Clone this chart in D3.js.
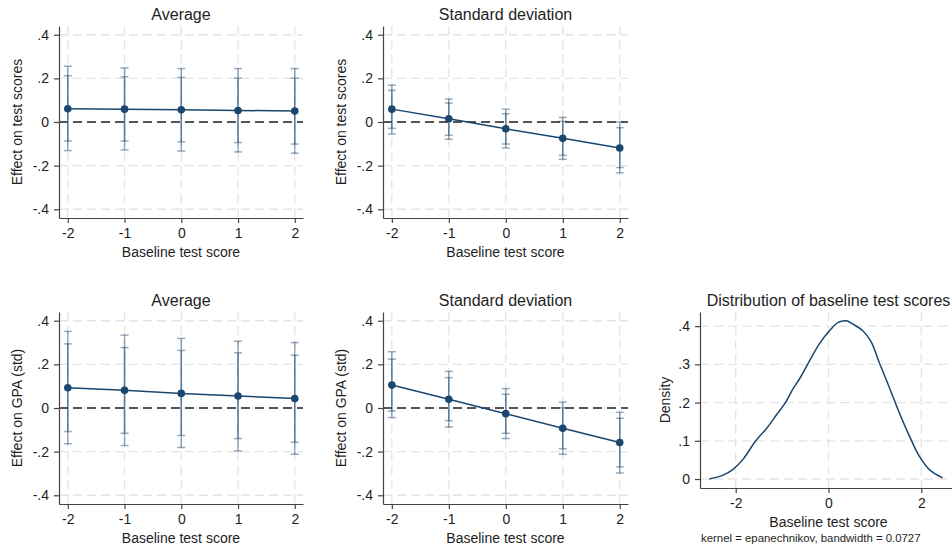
<!DOCTYPE html>
<html>
<head>
<meta charset="utf-8">
<script src="https://cdn.jsdelivr.net/npm/d3@7"></script>
<style>
  body { margin: 0; background: #fff; }
  svg { font-family: "Liberation Sans", Arial, sans-serif; }
</style>
</head>
<body>
<div id="chart"></div>
<script>
// valores de la figura
const scoreLevels = [-2, -1, 0, 1, 2];
const effectTicks = [-0.4, -0.2, 0, 0.2, 0.4];

// efecto promedio sobre test scores
const avgTestEst = [0.061, 0.059, 0.056, 0.053, 0.050];
const avgTestLo95 = [-0.131, -0.128, -0.133, -0.137, -0.143];
const avgTestHi95 = [0.256, 0.248, 0.245, 0.245, 0.245];
const avgTestLo90 = [-0.087, -0.087, -0.091, -0.094, -0.101];
const avgTestHi90 = [0.212, 0.207, 0.204, 0.201, 0.201];

// desviacion estandar sobre test scores
const sdTestEst = [0.059, 0.015, -0.031, -0.075, -0.119];
const sdTestLo95 = [-0.055, -0.079, -0.119, -0.171, -0.233];
const sdTestHi95 = [0.169, 0.105, 0.059, 0.021, 0.000];
const sdTestLo90 = [-0.029, -0.061, -0.101, -0.153, -0.209];
const sdTestHi90 = [0.145, 0.087, 0.038, 0.003, -0.026];

// efecto promedio sobre GPA
const avgGpaEst = [0.093, 0.081, 0.067, 0.055, 0.043];
const avgGpaLo95 = [-0.164, -0.172, -0.181, -0.197, -0.212];
const avgGpaHi95 = [0.351, 0.334, 0.319, 0.306, 0.300];
const avgGpaLo90 = [-0.108, -0.116, -0.126, -0.140, -0.157];
const avgGpaHi90 = [0.294, 0.277, 0.264, 0.253, 0.242];

// desviacion estandar sobre GPA
const sdGpaEst = [0.105, 0.040, -0.026, -0.093, -0.158];
const sdGpaLo95 = [-0.044, -0.087, -0.140, -0.212, -0.298];
const sdGpaHi95 = [0.258, 0.168, 0.089, 0.027, -0.020];
const sdGpaLo90 = [-0.014, -0.058, -0.116, -0.187, -0.270];
const sdGpaHi90 = [0.224, 0.139, 0.063, 0.001, -0.047];

// densidad kernel de baseline test score
const densityX = [-2.57, -2.26, -2.05, -1.84, -1.58, -1.33, -1.12, -0.94, -0.76, -0.62, -0.40, -0.19, 0.03, 0.21, 0.39, 0.53, 0.74, 0.92, 1.10, 1.32, 1.53, 1.75, 1.96, 2.18, 2.46];
const densityY = [0.000, 0.011, 0.026, 0.052, 0.098, 0.133, 0.168, 0.198, 0.237, 0.263, 0.311, 0.355, 0.389, 0.410, 0.414, 0.405, 0.388, 0.359, 0.303, 0.237, 0.172, 0.111, 0.059, 0.024, 0.003];
const densityTicksX = [-2, 0, 2];
const densityTicksY = [0, 0.1, 0.2, 0.3, 0.4];

const width = 952, height = 550;
const navy = "#1a476f";
const textColor = "#1e1e1e";

const svg = d3.select("#chart")
  .append("svg")
  .attr("width", width)
  .attr("height", height);

// formato estilo Stata: .4, -.2, 0 (con guion simple)
const stataFmt = d => d === 0 ? "0" : d3.format(".1f")(d).replace("0.", ".").replace("\u2212", "-");
const intFmt = d => String(d);

function drawFrame(p) {
  const x = d3.scaleLinear().domain(p.xDomain).range([p.x0, p.x1]);
  const y = d3.scaleLinear().domain(p.yDomain).range([p.y1, p.y0]);
  const g = svg.append("g");

  // grilla punteada
  g.selectAll(".hgrid")
    .data(p.yTicks)
    .enter()
    .append("line")
    .attr("x1", p.x0).attr("x2", p.x1)
    .attr("y1", d => y(d)).attr("y2", d => y(d))
    .attr("stroke", "#e4e4e4")
    .attr("stroke-width", 1.3)
    .attr("stroke-dasharray", "9,5");
  g.selectAll(".vgrid")
    .data(p.xTicks)
    .enter()
    .append("line")
    .attr("x1", d => x(d)).attr("x2", d => x(d))
    .attr("y1", p.y0).attr("y2", p.y1)
    .attr("stroke", "#e4e4e4")
    .attr("stroke-width", 1.3)
    .attr("stroke-dasharray", "9,5");

  // ejes
  const yAxis = d3.axisLeft(y).tickValues(p.yTicks).tickFormat(stataFmt)
    .tickSize(5).tickSizeOuter(0).tickPadding(5);
  const xAxis = d3.axisBottom(x).tickValues(p.xTicks).tickFormat(intFmt)
    .tickSize(5).tickSizeOuter(0).tickPadding(5);

  const gy = g.append("g").attr("transform", `translate(${p.x0},0)`).call(yAxis);
  const gx = g.append("g").attr("transform", `translate(0,${p.y1})`).call(xAxis);
  [gx, gy].forEach(a => {
    a.select(".domain").attr("stroke", "#444").attr("stroke-width", 1.2);
    a.selectAll(".tick line").attr("stroke", "#444").attr("stroke-width", 1.2);
    a.selectAll(".tick text").attr("fill", textColor).style("font-size", "14px")
      .style("font-family", "'Liberation Sans', Arial, sans-serif");
  });

  // titulos
  g.append("text")
    .attr("x", (p.x0 + p.x1) / 2)
    .attr("y", p.y0 - 6)
    .attr("text-anchor", "middle")
    .attr("fill", textColor)
    .style("font-size", "16px")
    .text(p.title);
  g.append("text")
    .attr("x", (p.x0 + p.x1) / 2)
    .attr("y", p.y1 + 39)
    .attr("text-anchor", "middle")
    .attr("fill", textColor)
    .style("font-size", "14px")
    .text(p.xTitle);
  g.append("text")
    .attr("transform", `translate(${p.yTitleX},${(p.y0 + p.y1) / 2}) rotate(-90)`)
    .attr("text-anchor", "middle")
    .attr("dy", "0.35em")
    .attr("fill", textColor)
    .style("font-size", "14px")
    .text(p.yTitle);

  return { g, x, y };
}

function drawEffectPanel(p) {
  const f = drawFrame(Object.assign({
    xDomain: [-2.155, 2.145],
    yDomain: [-0.44, 0.44],
    xTicks: scoreLevels,
    yTicks: effectTicks,
    xTitle: "Baseline test score"
  }, p));
  const { g, x, y } = f;

  const rows = scoreLevels.map((s, i) => ({
    s, est: p.est[i], lo95: p.lo95[i], hi95: p.hi95[i], lo90: p.lo90[i], hi90: p.hi90[i]
  }));

  // linea de referencia en cero
  g.append("line")
    .attr("x1", p.x0).attr("x2", p.x1)
    .attr("y1", y(0)).attr("y2", y(0))
    .attr("stroke", "#555")
    .attr("stroke-width", 2)
    .attr("stroke-dasharray", "9,5");

  // intervalos de confianza 95% y 90%
  [["lo95", "hi95"], ["lo90", "hi90"]].forEach(([lo, hi]) => {
    const ci = g.append("g")
      .attr("stroke", navy)
      .attr("stroke-opacity", 0.45)
      .attr("stroke-width", 1.5);
    ci.selectAll("line.bar")
      .data(rows)
      .enter()
      .append("line")
      .attr("x1", d => x(d.s)).attr("x2", d => x(d.s))
      .attr("y1", d => y(d[lo])).attr("y2", d => y(d[hi]));
    [lo, hi].forEach(k => {
      ci.selectAll("line.cap-" + k)
        .data(rows)
        .enter()
        .append("line")
        .attr("x1", d => x(d.s) - 4).attr("x2", d => x(d.s) + 4)
        .attr("y1", d => y(d[k])).attr("y2", d => y(d[k]));
    });
  });

  // estimaciones puntuales
  g.append("path")
    .datum(rows)
    .attr("fill", "none")
    .attr("stroke", navy)
    .attr("stroke-width", 1.5)
    .attr("d", d3.line().x(d => x(d.s)).y(d => y(d.est)));
  g.selectAll("circle")
    .data(rows)
    .enter()
    .append("circle")
    .attr("cx", d => x(d.s))
    .attr("cy", d => y(d.est))
    .attr("r", 3.8)
    .attr("fill", navy);
}

drawEffectPanel({
  x0: 59, x1: 303, y0: 26, y1: 218, yTitleX: 17,
  title: "Average", yTitle: "Effect on test scores",
  est: avgTestEst, lo95: avgTestLo95, hi95: avgTestHi95, lo90: avgTestLo90, hi90: avgTestHi90
});
drawEffectPanel({
  x0: 383, x1: 628, y0: 26, y1: 218, yTitleX: 341,
  title: "Standard deviation", yTitle: "Effect on test scores",
  est: sdTestEst, lo95: sdTestLo95, hi95: sdTestHi95, lo90: sdTestLo90, hi90: sdTestHi90
});
drawEffectPanel({
  x0: 59, x1: 303, y0: 312, y1: 504, yTitleX: 17,
  title: "Average", yTitle: "Effect on GPA (std)",
  est: avgGpaEst, lo95: avgGpaLo95, hi95: avgGpaHi95, lo90: avgGpaLo90, hi90: avgGpaHi90
});
drawEffectPanel({
  x0: 383, x1: 628, y0: 312, y1: 504, yTitleX: 341,
  title: "Standard deviation", yTitle: "Effect on GPA (std)",
  est: sdGpaEst, lo95: sdGpaLo95, hi95: sdGpaHi95, lo90: sdGpaLo90, hi90: sdGpaHi90
});

// panel de densidad
const dens = drawFrame({
  x0: 700, x1: 957, y0: 312, y1: 488,
  xDomain: [-2.77, 2.77], yDomain: [-0.0235, 0.437],
  xTicks: densityTicksX, yTicks: densityTicksY,
  title: "Distribution of baseline test scores",
  xTitle: "Baseline test score", yTitle: "Density", yTitleX: 665
});
dens.g.append("path")
  .datum(densityX.map((v, i) => [v, densityY[i]]))
  .attr("fill", "none")
  .attr("stroke", navy)
  .attr("stroke-width", 1.5)
  .attr("d", d3.line().x(d => dens.x(d[0])).y(d => dens.y(d[1])).curve(d3.curveCatmullRom));
dens.g.append("text")
  .attr("x", 701)
  .attr("y", 542)
  .attr("fill", textColor)
  .style("font-size", "11.4px")
  .text("kernel = epanechnikov, bandwidth = 0.0727");
</script>
</body>
</html>
